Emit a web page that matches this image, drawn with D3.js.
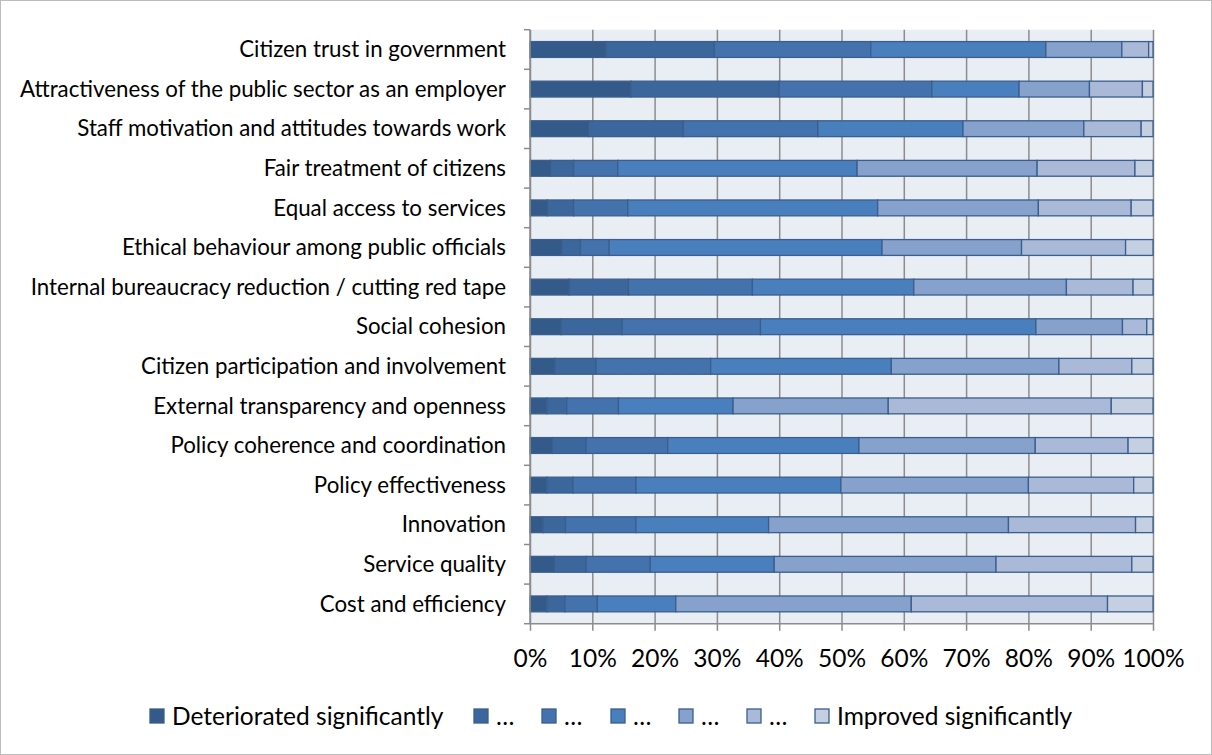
<!DOCTYPE html>
<html>
<head>
<meta charset="utf-8">
<script src="https://cdn.jsdelivr.net/npm/d3@7"></script>
<style>
  body { margin: 0; background: #fff; }
  svg { display: block; font-family: Lato, 'Open Sans', sans-serif; }
  .cat-label { font-size: 22.3px; fill: #000; }
  .x-axis text { font-size: 24.5px; fill: #000; font-family: Lato, sans-serif; }
  .legend text { font-size: 24.5px; fill: #000; }
</style>
</head>
<body>
<div id="chart"></div>
<script>
// categories top to bottom
const categories = [
  'Citizen trust in government',
  'Attractiveness of the public sector as an employer',
  'Staff motivation and attitudes towards work',
  'Fair treatment of citizens',
  'Equal access to services',
  'Ethical behaviour among public officials',
  'Internal bureaucracy reduction / cutting red tape',
  'Social cohesion',
  'Citizen participation and involvement',
  'External transparency and openness',
  'Policy coherence and coordination',
  'Policy effectiveness',
  'Innovation',
  'Service quality',
  'Cost and efficiency'
];

const seriesNames = ['Deteriorated significantly', '\u2026', '\u2026', '\u2026', '\u2026', '\u2026', 'Improved significantly'];

// share of answers (%) per level, same order as categories
const deterioratedSig = [12.2, 16.2, 9.4, 3.3, 2.8, 5.1, 6.3, 5.0, 4.0, 2.7, 3.6, 2.7, 2.1, 3.9, 2.7];
const level2 = [17.4, 23.8, 15.2, 3.7, 4.2, 3.0, 9.5, 9.8, 6.6, 3.2, 5.4, 4.2, 3.6, 5.1, 2.9];
const level3 = [25.1, 24.5, 21.6, 7.1, 8.7, 4.6, 19.9, 22.2, 18.4, 8.3, 13.1, 10.1, 11.3, 10.3, 5.2];
const level4 = [28.1, 14.0, 23.3, 38.4, 40.1, 43.8, 25.9, 44.2, 29.0, 18.4, 30.7, 32.9, 21.3, 19.9, 12.6];
const level5 = [12.2, 11.3, 19.4, 28.9, 25.8, 22.4, 24.5, 13.9, 26.9, 24.9, 28.3, 30.1, 38.5, 35.6, 37.8];
const level6 = [4.3, 8.5, 9.2, 15.7, 14.9, 16.7, 10.7, 3.9, 11.7, 35.8, 14.9, 16.9, 20.4, 21.8, 31.5];
const improvedSig = [0.7, 1.7, 1.9, 2.9, 3.5, 4.4, 3.2, 1.0, 3.4, 6.7, 4.0, 3.1, 2.8, 3.4, 7.3];

const tickValues = [0, 10, 20, 30, 40, 50, 60, 70, 80, 90, 100];

const colors = ['#335a88', '#3c679c', '#4472ad', '#4a7fbe', '#86a1cc', '#a9b9d7', '#c5cfe2'];

class StackedBarChart {

  constructor(_config, _data) {
    this.config = {
      parentElement: _config.parentElement,
      containerWidth: 1212,
      containerHeight: 755,
      margin: {top: 29.7, right: 59, bottom: 131.3, left: 530}
    }
    this.data = _data;
    this.initVis();
  }

  initVis() {
    let vis = this;

    vis.width = vis.config.containerWidth - vis.config.margin.left - vis.config.margin.right;
    vis.height = vis.config.containerHeight - vis.config.margin.top - vis.config.margin.bottom;

    vis.xScale = d3.scaleLinear()
      .domain([0, 100])
      .range([0, vis.width]);

    vis.yScale = d3.scaleBand()
      .domain(categories)
      .range([0, vis.height])
      .paddingInner(0.6)
      .paddingOuter(0.3);

    vis.svg = d3.select(vis.config.parentElement).append('svg')
      .attr('width', vis.config.containerWidth)
      .attr('height', vis.config.containerHeight);

    // outer chart border
    vis.svg.append('rect')
      .attr('x', 0.5).attr('y', 0.5)
      .attr('width', vis.config.containerWidth - 1)
      .attr('height', vis.config.containerHeight - 1)
      .attr('fill', '#fff')
      .attr('stroke', '#bcbcbc');

    vis.chart = vis.svg.append('g')
      .attr('transform', `translate(${vis.config.margin.left},${vis.config.margin.top})`);

    vis.chart.append('rect')
      .attr('width', vis.width)
      .attr('height', vis.height)
      .attr('fill', '#e9edf4');

    vis.renderVis();
  }

  renderVis() {
    let vis = this;

    // vertical gridlines + bottom axis
    vis.xAxis = d3.axisBottom(vis.xScale)
      .tickValues(tickValues)
      .tickFormat(d => d + '%')
      .tickSize(-vis.height)
      .tickPadding(26);

    vis.xAxisG = vis.chart.append('g')
      .attr('class', 'axis x-axis')
      .attr('transform', `translate(0,${vis.height})`)
      .call(vis.xAxis);
    vis.xAxisG.select('.domain').remove();
    vis.xAxisG.selectAll('.tick line')
      .attr('stroke', '#8c8c8c')
      .attr('stroke-width', 1.5)
      .attr('y2', -vis.height)
      .attr('y1', 7);

    // bars
    const stack = d3.stack().keys(d3.range(seriesNames.length));
    vis.series = stack(vis.data);

    vis.chart.selectAll('.series')
      .data(vis.series)
      .join('g')
      .attr('class', 'series')
      .attr('fill', (d, i) => colors[i])
      .selectAll('rect')
      .data(d => d)
      .join('rect')
      .attr('x', d => vis.xScale(d[0]))
      .attr('width', d => vis.xScale(d[1]) - vis.xScale(d[0]))
      .attr('y', d => vis.yScale(d.data.category))
      .attr('height', vis.yScale.bandwidth())
      .attr('stroke', '#3a5e8e')
      .attr('stroke-width', 1.3);

    // axis lines
    vis.chart.append('line')
      .attr('x1', 0).attr('x2', vis.width)
      .attr('y1', vis.height).attr('y2', vis.height)
      .attr('stroke', '#8c8c8c').attr('stroke-width', 1.5);
    vis.chart.append('line')
      .attr('x1', 0).attr('x2', 0)
      .attr('y1', 0).attr('y2', vis.height)
      .attr('stroke', '#8c8c8c').attr('stroke-width', 1.5);

    // left ticks sit between categories
    vis.chart.selectAll('.y-tick')
      .data(d3.range(categories.length + 1))
      .join('line')
      .attr('class', 'y-tick')
      .attr('x1', -6).attr('x2', 0)
      .attr('y1', i => i * vis.yScale.step())
      .attr('y2', i => i * vis.yScale.step())
      .attr('stroke', '#8c8c8c').attr('stroke-width', 1.5);

    vis.chart.selectAll('.cat-label')
      .data(categories)
      .join('text')
      .attr('class', 'cat-label')
      .attr('x', -24)
      .attr('y', d => vis.yScale(d) + vis.yScale.bandwidth() / 2)
      .attr('dy', '0.35em')
      .style('text-anchor', 'end')
      .text(d => d);

    // legend
    const legendX = [150, 474, 542, 611, 679, 747, 815];
    vis.legend = vis.svg.append('g').attr('class', 'legend');
    const item = vis.legend.selectAll('g')
      .data(seriesNames)
      .join('g')
      .attr('transform', (d, i) => `translate(${legendX[i]},709)`);
    item.append('rect')
      .attr('width', 14).attr('height', 14)
      .attr('fill', (d, i) => colors[i])
      .attr('stroke', '#3a5e8e').attr('stroke-width', 1.3);
    item.append('text')
      .attr('x', 22).attr('y', 7)
      .attr('dy', '0.35em')
      .text(d => d);
  }
}

const data = categories.map((c, i) => {
  const row = {category: c};
  [deterioratedSig, level2, level3, level4, level5, level6, improvedSig].forEach((s, k) => row[k] = s[i]);
  return row;
});

new StackedBarChart({parentElement: '#chart'}, data);
</script>
</body>
</html>
